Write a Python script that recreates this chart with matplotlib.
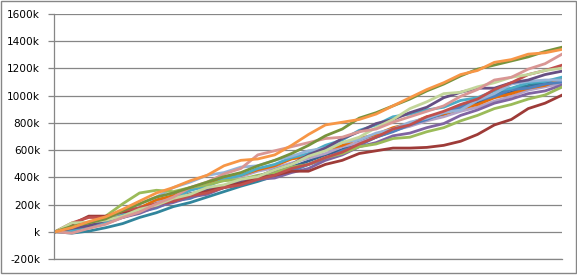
import matplotlib
matplotlib.use("Agg")
from matplotlib import pyplot as plt
from matplotlib.patches import Rectangle

# step index along the x axis (no labels shown on the chart)
steps = list(range(31))

# y axis ticks and their labels, values in thousands
y_ticks = [-200, 0, 200, 400, 600, 800, 1000, 1200, 1400, 1600]
y_labels = ["-200k", "k", "200k", "400k", "600k", "800k", "1000k", "1200k", "1400k", "1600k"]

# series values (thousands)
dark_teal = [0, -10, 5, 30, 60, 105, 140, 185, 215, 255, 295, 335, 370, 410, 455, 495, 540, 590, 650, 695, 740, 785, 830, 875, 920, 965, 1010, 1050, 1075, 1100, 1120]
dark_blue = [0, 20, 55, 85, 130, 165, 210, 245, 280, 305, 340, 375, 400, 440, 475, 520, 565, 605, 660, 705, 750, 785, 825, 860, 905, 945, 990, 1025, 1060, 1085, 1110]
light_purple = [0, 25, 40, 85, 125, 180, 215, 270, 305, 350, 385, 405, 445, 470, 505, 540, 575, 625, 655, 700, 745, 775, 815, 845, 885, 915, 960, 995, 1040, 1065, 1090]
dark_orange = [0, 30, 65, 95, 145, 175, 235, 265, 315, 345, 395, 415, 455, 485, 535, 555, 605, 635, 685, 715, 765, 795, 845, 865, 905, 935, 985, 1015, 1055, 1075, 1120]
blue = [0, 20, 45, 85, 105, 145, 175, 225, 245, 295, 325, 365, 385, 425, 445, 495, 535, 595, 635, 695, 735, 785, 825, 875, 915, 965, 995, 1045, 1055, 1085, 1100]
purple = [0, 10, 35, 60, 105, 135, 185, 215, 255, 275, 325, 345, 385, 395, 435, 465, 525, 565, 625, 655, 705, 725, 765, 795, 855, 895, 945, 975, 1015, 1035, 1078]
teal = [0, 10, 45, 75, 125, 155, 205, 245, 305, 335, 385, 415, 465, 495, 545, 575, 635, 675, 745, 785, 845, 865, 895, 915, 965, 985, 1035, 1055, 1095, 1105, 1136]
light_blue = [0, 35, 55, 105, 145, 205, 255, 325, 365, 415, 435, 475, 485, 525, 555, 595, 615, 655, 675, 725, 755, 805, 835, 875, 895, 965, 1015, 1085, 1105, 1115, 1114]
green = [0, 35, 55, 115, 205, 285, 305, 295, 325, 345, 375, 385, 415, 435, 475, 495, 545, 575, 625, 645, 685, 695, 735, 765, 815, 855, 905, 935, 975, 1005, 1063]
dark_purple = [0, 25, 45, 85, 115, 165, 195, 245, 265, 305, 325, 375, 405, 455, 495, 565, 615, 685, 735, 795, 825, 875, 915, 985, 1025, 1055, 1055, 1095, 1115, 1155, 1180]
brown = [0, 55, 115, 115, 145, 165, 205, 225, 275, 295, 335, 355, 395, 415, 445, 445, 495, 525, 575, 595, 615, 615, 620, 635, 665, 715, 785, 825, 905, 945, 1004]
red = [0, 65, 105, 105, 155, 175, 205, 225, 265, 285, 325, 345, 385, 415, 465, 495, 545, 585, 645, 695, 755, 785, 845, 885, 935, 975, 1045, 1095, 1155, 1185, 1224]
light_green = [0, 65, 70, 85, 115, 165, 195, 245, 275, 325, 345, 385, 405, 455, 495, 555, 595, 655, 695, 765, 825, 905, 955, 1015, 1025, 1065, 1095, 1135, 1155, 1185, 1202]
pink = [0, -10, 25, 55, 105, 145, 205, 255, 325, 365, 425, 465, 565, 595, 625, 655, 685, 695, 735, 755, 805, 845, 885, 925, 995, 1045, 1115, 1135, 1195, 1235, 1305]
olive = [0, 40, 65, 95, 155, 205, 255, 285, 325, 365, 405, 435, 485, 525, 575, 635, 705, 755, 835, 875, 925, 975, 1035, 1085, 1145, 1195, 1225, 1255, 1285, 1325, 1356]
orange = [0, 30, 75, 110, 165, 225, 285, 325, 375, 415, 485, 525, 535, 565, 635, 715, 785, 805, 825, 865, 925, 985, 1045, 1095, 1155, 1185, 1245, 1265, 1305, 1315, 1340]

series = [
    (dark_teal, "#31859C"),
    (dark_blue, "#376092"),
    (light_purple, "#B3A2C7"),
    (dark_orange, "#E46C0A"),
    (blue, "#4F81BD"),
    (purple, "#8064A2"),
    (teal, "#4BACC6"),
    (light_blue, "#95B3D7"),
    (green, "#9BBB59"),
    (dark_purple, "#664F83"),
    (brown, "#9E3B38"),
    (red, "#C0504D"),
    (light_green, "#C3D69B"),
    (pink, "#D99694"),
    (olive, "#77933C"),
    (orange, "#F79646"),
]

W, H = 577, 275
fig = plt.figure(figsize=(W / 100, H / 100), dpi=100)
ax = fig.add_axes([54 / W, 16 / H, 508 / W, 245 / H])

for values, color in series:
    ax.plot(steps, values, color=color, linewidth=2.0, solid_joinstyle="round")

ax.set_xlim(-0.06, 30)
ax.set_ylim(-200, 1600)
ax.set_xticks([])
ax.set_yticks(y_ticks)
ax.set_yticklabels(y_labels, fontsize=7.6, fontfamily="DejaVu Sans")
ax.tick_params(axis="y", length=4, width=0.9, color="#868686", pad=6)
ax.yaxis.grid(True, color="#868686", linewidth=0.9)
ax.set_axisbelow(True)

for side in ["top", "right"]:
    ax.spines[side].set_visible(False)
for side in ["left", "bottom"]:
    ax.spines[side].set_color("#868686")
    ax.spines[side].set_linewidth(0.9)

# outer chart border
fig.patches.append(Rectangle((0.5 / W, 2 / H), 575 / W, 272 / H, transform=fig.transFigure,
                             fill=False, edgecolor="#868686", linewidth=1.0))

fig.savefig("out.png", dpi=100)
